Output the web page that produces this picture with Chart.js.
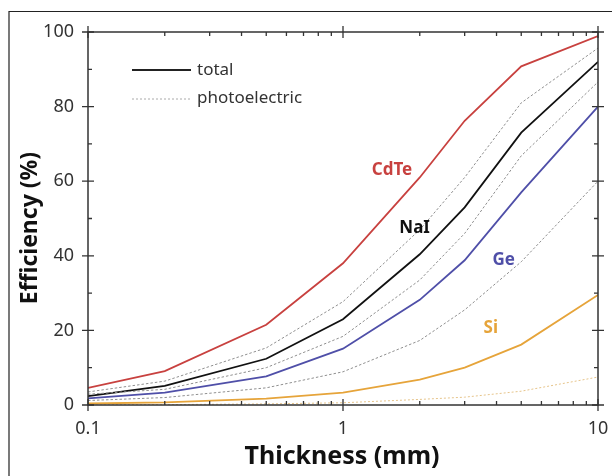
<!DOCTYPE html>
<html>
<head>
<meta charset="utf-8">
<script src="https://cdn.jsdelivr.net/npm/chart.js@4/dist/chart.umd.min.js"></script>
<style>
  html, body { margin: 0; padding: 0; background: #fff; }
  #wrap { width: 612px; height: 476px; position: relative; }
</style>
</head>
<body>
<div id="wrap"><canvas id="c" width="612" height="476"></canvas></div>
<script>
// thickness in mm
const thickness = [0.1, 0.2, 0.5, 1, 2, 3, 5, 10];

// total efficiency (%)
const cdteTotal = [4.6, 9.1, 21.5, 38, 61, 76.2, 90.8, 98.9];
const naiTotal  = [2.4, 5.1, 12.4, 23, 40.4, 53, 73, 92];
const geTotal   = [1.8, 3.3, 7.7, 15.1, 28.2, 38.8, 57, 80];
const siTotal   = [0.4, 0.7, 1.7, 3.3, 6.8, 10, 16.2, 29.5];

// photoelectric efficiency (%)
const cdtePe = [3.5, 6.4, 15.3, 27.7, 47, 61, 81, 95.7];
const naiPe  = [2.9, 4.2, 10, 18.4, 33.5, 46, 66.8, 86.6];
const gePe   = [1.2, 2.0, 4.6, 8.9, 17.3, 25.5, 38.4, 60];
const siPe   = [0.05, 0.1, 0.3, 0.6, 1.5, 2.1, 3.7, 7.5];

const yTicks = [0, 20, 40, 60, 80, 100];
const xTicks = [0.1, 1, 10];

const pts = (arr) => thickness.map((t, i) => ({ x: t, y: arr[i] }));

const RED = "#c8413f", BLUE = "#4f4fa8", ORANGE = "#e6a43a", GRAY = "#8f8f8f";
const FONT = "'Noto Sans', sans-serif";

function line(data, color, dash, width) {
  return {
    data: pts(data), borderColor: color, borderWidth: width || 1.8,
    borderDash: dash || [], pointRadius: 0, tension: 0, fill: false,
  };
}

// frame, crossing ticks, axis titles, legend and material labels
const decor = {
  id: "decor",
  afterDraw(chart) {
    const { ctx, chartArea: a, scales: { x, y } } = chart;
    ctx.save();
    // outer border of the figure
    ctx.strokeStyle = "#222"; ctx.lineWidth = 1.2;
    ctx.beginPath(); ctx.moveTo(9, 500); ctx.lineTo(9, 11.5); ctx.lineTo(620, 11.5); ctx.stroke();

    ctx.strokeStyle = "#333"; ctx.lineWidth = 1.5;
    ctx.strokeRect(a.left, a.top, a.right - a.left, a.bottom - a.top);

    ctx.lineWidth = 1.3;
    ctx.beginPath();
    for (let v = 0; v <= 100; v += 10) {
      const py = y.getPixelForValue(v);
      const major = v % 20 === 0;
      ctx.moveTo(a.left - (major ? 6 : 0), py); ctx.lineTo(a.left + (major ? 6 : 4), py);
      ctx.moveTo(a.right + (major ? 6 : 0), py); ctx.lineTo(a.right - (major ? 6 : 4), py);
    }
    [0.1, 1].forEach((dec) => {
      for (let m = 1; m <= 10; m++) {
        const px = x.getPixelForValue(dec * m);
        const major = m === 1 || m === 10;
        ctx.moveTo(px, a.bottom + (major ? 6 : 0)); ctx.lineTo(px, a.bottom - (major ? 6 : 4));
        ctx.moveTo(px, a.top - (major ? 6 : 0)); ctx.lineTo(px, a.top + (major ? 6 : 4));
      }
    });
    ctx.stroke();

    // axis titles
    ctx.fillStyle = "#111"; ctx.textAlign = "center"; ctx.textBaseline = "middle";
    ctx.font = "bold 25px " + FONT;
    ctx.fillText("Thickness (mm)", 342, 457);
    ctx.save();
    ctx.translate(30, 228); ctx.rotate(-Math.PI / 2);
    ctx.font = "bold 23px " + FONT;
    ctx.fillText("Efficiency (%)", 0, 0);
    ctx.restore();

    // legend
    ctx.font = "17px " + FONT;
    ctx.fillStyle = "#333"; ctx.textAlign = "left";
    ctx.strokeStyle = "#222"; ctx.lineWidth = 1.8;
    ctx.beginPath(); ctx.moveTo(132, 70); ctx.lineTo(191, 70); ctx.stroke();
    ctx.fillText("total", 197, 70);
    ctx.strokeStyle = "#aaa"; ctx.lineWidth = 1; ctx.setLineDash([2, 2]);
    ctx.beginPath(); ctx.moveTo(132, 99); ctx.lineTo(191, 99); ctx.stroke();
    ctx.setLineDash([]);
    ctx.fillText("photoelectric", 197, 98);

    // material labels
    ctx.font = "bold 17px " + FONT; ctx.textAlign = "center";
    [["CdTe", 1.556, 63, RED], ["NaI", 1.91, 47.5, "#111"], ["Ge", 4.27, 38.9, BLUE], ["Si", 3.8, 20.6, ORANGE]]
      .forEach(([t, vx, vy, c]) => {
        ctx.fillStyle = c;
        ctx.fillText(t, x.getPixelForValue(vx), y.getPixelForValue(vy));
      });
    ctx.restore();
  },
};

new Chart(document.getElementById("c"), {
  type: "line",
  data: {
    datasets: [
      line(cdtePe, GRAY, [2.5, 2], 1),
      line(naiPe, GRAY, [2.5, 2], 1),
      line(gePe, GRAY, [2.5, 2], 1),
      line(siPe, "#e6c48a", [2, 2], 1),
      line(siTotal, ORANGE),
      line(geTotal, BLUE),
      line(naiTotal, "#111"),
      line(cdteTotal, RED),
    ],
  },
  options: {
    responsive: false,
    animation: false,
    layout: { padding: { left: 0, top: 32, right: 14, bottom: 0 } },
    plugins: { legend: { display: false }, tooltip: { enabled: false } },
    scales: {
      x: {
        type: "logarithmic", min: 0.1, max: 10,
        afterBuildTicks: (s) => { s.ticks = xTicks.map((v) => ({ value: v })); },
        afterFit: (s) => { s.height = 71; s.paddingLeft = 0; s.paddingRight = 0; },
        grid: { display: false, drawTicks: false },
        border: { display: false },
        ticks: {
          color: "#333", padding: 13, maxRotation: 0, autoSkip: false,
          font: { size: 18, family: FONT },
          callback: (v) => String(v),
        },
      },
      y: {
        min: 0, max: 100,
        afterBuildTicks: (s) => { s.ticks = yTicks.map((v) => ({ value: v })); },
        afterFit: (s) => { s.width = 88; s.paddingTop = 0; s.paddingBottom = 0; },
        grid: { display: false, drawTicks: false },
        border: { display: false },
        ticks: { color: "#333", padding: 14, font: { size: 18, family: FONT } },
      },
    },
  },
  plugins: [decor],
});
</script>
</body>
</html>
